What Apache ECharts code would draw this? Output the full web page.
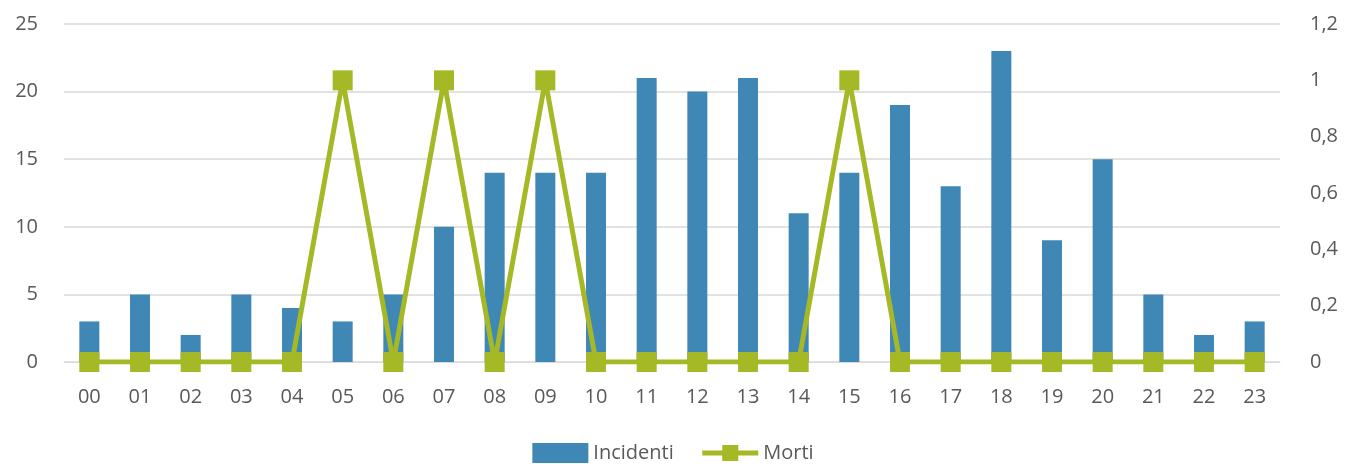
<!DOCTYPE html>
<html>
<head>
<meta charset="utf-8">
<script src="https://cdn.jsdelivr.net/npm/echarts@6/dist/echarts.min.js"></script>
<style>
  html, body { margin: 0; padding: 0; background: #fff; }
  #chart { width: 1346px; height: 464px; }
</style>
</head>
<body>
<div id="chart"></div>
<script>
// dati: ore del giorno, incidenti e morti
const ore = ['00','01','02','03','04','05','06','07','08','09','10','11',
             '12','13','14','15','16','17','18','19','20','21','22','23'];
const incidenti = [3,5,2,5,4,3,5,10,14,14,14,21,20,21,11,14,19,13,23,9,15,5,2,3];
const morti = [0,0,0,0,0,1,0,1,0,1,0,0,0,0,0,1,0,0,0,0,0,0,0,0];

(function() {
    const chartDom = document.getElementById('chart');
    const myChart = echarts.init(chartDom);
    const font = '"Open Sans", "Liberation Sans", sans-serif';
    const textColor = '#595959';
    const verde = '#a5b825';

    const option = {
        animation: false,
        textStyle: { fontFamily: font },
        legend: {
            top: 438,
            left: 'center',
            itemGap: 26,
            textStyle: { fontSize: 20, color: textColor, fontFamily: font },
            data: [
                { name: 'Incidenti', icon: 'rect', itemWidth: 51, itemHeight: 15 },
                { name: 'Morti', lineStyle: { width: 5, color: verde } }
            ],
            itemWidth: 56,
            itemHeight: 20
        },
        grid: { left: 64, right: 66, top: 24, bottom: 102 },
        xAxis: {
            type: 'category',
            data: ore,
            axisLine: { lineStyle: { color: '#d9d9d9' } },
            axisTick: { show: false },
            axisLabel: { fontSize: 20, color: textColor, margin: 25, fontFamily: font }
        },
        yAxis: [
            {
                type: 'value',
                min: 0, max: 25, interval: 5,
                axisLine: { show: false },
                axisTick: { show: false },
                splitLine: { lineStyle: { color: '#d9d9d9', width: 1.5 } },
                axisLabel: { fontSize: 20, color: textColor, margin: 26, fontFamily: font }
            },
            {
                type: 'value',
                min: 0, max: 1.2, interval: 0.2,
                axisLine: { show: false },
                axisTick: { show: false },
                splitLine: { show: false },
                axisLabel: {
                    fontSize: 20, color: textColor, margin: 30, fontFamily: font,
                    formatter: v => String(Math.round(v * 10) / 10).replace('.', ',')
                }
            }
        ],
        series: [
            {
                name: 'Incidenti',
                type: 'bar',
                barWidth: 20,
                itemStyle: { color: '#3f87b4' },
                data: incidenti
            },
            {
                name: 'Morti',
                type: 'line',
                yAxisIndex: 1,
                symbol: 'rect',
                symbolSize: 20,
                lineStyle: { width: 5, color: verde },
                itemStyle: { color: verde },
                data: morti
            }
        ]
    };

    myChart.setOption(option);
})();
</script>
</body>
</html>
